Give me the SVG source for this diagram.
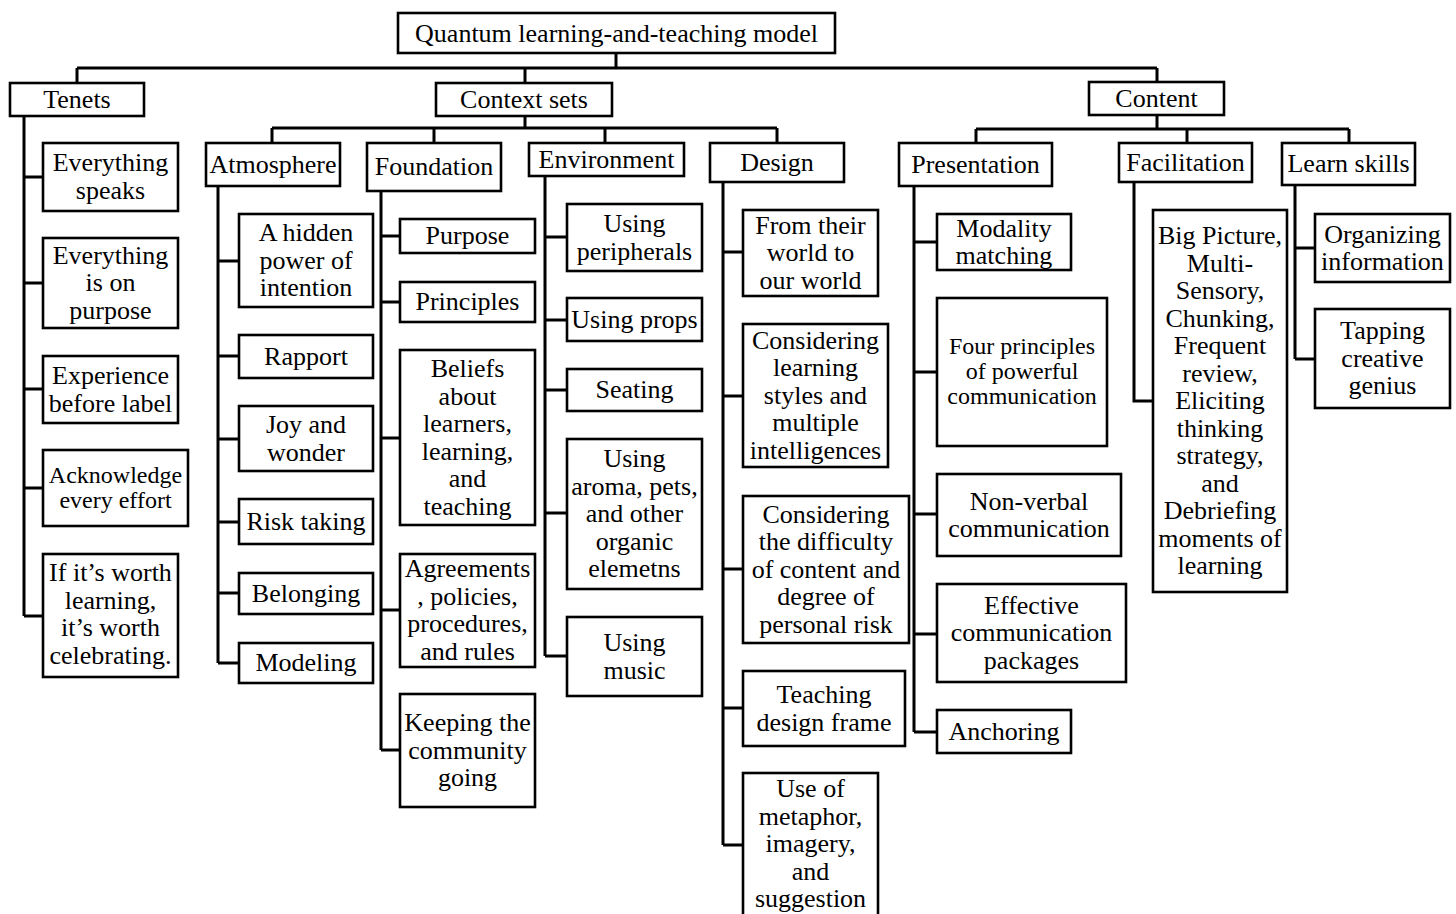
<svg xmlns="http://www.w3.org/2000/svg" width="1456" height="914" viewBox="0 0 1456 914">
<style>
rect{fill:#fff;stroke:#000;stroke-width:2.6}
text{font-family:"Liberation Serif","Times New Roman",serif;font-size:26px;fill:#000;text-anchor:middle}
text.s{font-size:24px}
#connectors path{fill:none;stroke:#000;stroke-width:3}
</style>
<rect x="0" y="0" width="1456" height="914" style="stroke:none"/>
<g id="connectors">
<path d="M616,53V68M77,68H1157M77,68V83M525,68V83M1157,68V82"/>
<path d="M525,116V128M272,128H777M272,128V143M434,128V143M605,128V143M777,128V143"/>
<path d="M1157,115V129M976,129H1349M976,129V143M1187,129V143M1349,129V143"/>
<path d="M24,116V616M24,177H43M24,283H43M24,389H43M24,488H43M24,616H43"/>
<path d="M218,186V663M218,261H239M218,356H239M218,439H239M218,522H239M218,593H239M218,663H239"/>
<path d="M381,191V750M381,236H400M381,302H400M381,438H400M381,610H400M381,750H400"/>
<path d="M545,176V656M545,237H567M545,320H567M545,390H567M545,513H567M545,656H567"/>
<path d="M723,182V845M723,252H743M723,396H743M723,569H743M723,708H743M723,845H743"/>
<path d="M914,186V732M914,242H937M914,372H937M914,514H937M914,634H937M914,732H937"/>
<path d="M1134,182V401H1153"/>
<path d="M1295,185V359M1295,248H1315M1295,359H1315"/>
</g>
<g id="root"><rect x="398" y="13" width="437" height="40"/><text x="616.5" y="42">Quantum learning-and-teaching model</text></g>
<g id="tenets"><rect x="10" y="83" width="134" height="33"/><text x="77" y="108">Tenets</text></g>
<g id="context-sets"><rect x="436" y="83" width="176" height="33"/><text x="524" y="108">Context sets</text></g>
<g id="content"><rect x="1089" y="82" width="135" height="33"/><text x="1156.5" y="107">Content</text></g>
<g id="atmosphere"><rect x="206" y="143" width="134" height="43"/><text x="273" y="173">Atmosphere</text></g>
<g id="foundation"><rect x="367" y="143" width="134" height="48"/><text x="434" y="175">Foundation</text></g>
<g id="environment"><rect x="529" y="143" width="155" height="33"/><text x="606.5" y="168">Environment</text></g>
<g id="design"><rect x="710" y="143" width="134" height="39"/><text x="777" y="171">Design</text></g>
<g id="presentation"><rect x="899" y="143" width="153" height="43"/><text x="975.5" y="173">Presentation</text></g>
<g id="facilitation"><rect x="1119" y="143" width="133" height="39"/><text x="1185.5" y="171">Facilitation</text></g>
<g id="learn-skills"><rect x="1282" y="143" width="133" height="42"/><text x="1348.5" y="172">Learn skills</text></g>

<g id="t1"><rect x="43" y="143" width="135" height="68"/><text x="110.5" y="171"><tspan x="110.5">Everything</tspan><tspan x="110.5" dy="27.5">speaks</tspan></text></g>
<g id="t2"><rect x="43" y="238" width="135" height="90"/><text x="110.5" y="263.5"><tspan x="110.5">Everything</tspan><tspan x="110.5" dy="27.5">is on</tspan><tspan x="110.5" dy="27.5">purpose</tspan></text></g>
<g id="t3"><rect x="43" y="356" width="135" height="67"/><text x="110.5" y="384"><tspan x="110.5">Experience</tspan><tspan x="110.5" dy="27.5">before label</tspan></text></g>
<g id="t4"><rect x="43" y="450" width="145" height="76"/><text class="s" x="115.5" y="483"><tspan x="115.5">Acknowledge</tspan><tspan x="115.5" dy="25">every effort</tspan></text></g>
<g id="t5"><rect x="43" y="554" width="135" height="123"/><text x="110.5" y="581"><tspan x="110.5">If it’s worth</tspan><tspan x="110.5" dy="27.5">learning,</tspan><tspan x="110.5" dy="27.5">it’s worth</tspan><tspan x="110.5" dy="27.5">celebrating.</tspan></text></g>

<g id="a1"><rect x="239" y="214" width="134" height="93"/><text x="306" y="241"><tspan x="306">A hidden</tspan><tspan x="306" dy="27.5">power of</tspan><tspan x="306" dy="27.5">intention</tspan></text></g>
<g id="a2"><rect x="239" y="335" width="134" height="43"/><text x="306" y="365">Rapport</text></g>
<g id="a3"><rect x="239" y="406" width="134" height="65"/><text x="306" y="433"><tspan x="306">Joy and</tspan><tspan x="306" dy="27.5">wonder</tspan></text></g>
<g id="a4"><rect x="239" y="499" width="134" height="45"/><text x="306" y="530">Risk taking</text></g>
<g id="a5"><rect x="239" y="573" width="134" height="41"/><text x="306" y="602">Belonging</text></g>
<g id="a6"><rect x="239" y="643" width="134" height="40"/><text x="306" y="671">Modeling</text></g>

<g id="f1"><rect x="400" y="219" width="135" height="34"/><text x="467.5" y="244">Purpose</text></g>
<g id="f2"><rect x="400" y="282" width="135" height="40"/><text x="467.5" y="310">Principles</text></g>
<g id="f3"><rect x="400" y="350" width="135" height="175"/><text x="467.5" y="377"><tspan x="467.5">Beliefs</tspan><tspan x="467.5" dy="27.5">about</tspan><tspan x="467.5" dy="27.5">learners,</tspan><tspan x="467.5" dy="27.5">learning,</tspan><tspan x="467.5" dy="27.5">and</tspan><tspan x="467.5" dy="27.5">teaching</tspan></text></g>
<g id="f4"><rect x="400" y="554" width="135" height="113"/><text x="467.5" y="577"><tspan x="467.5">Agreements</tspan><tspan x="467.5" dy="27.5">, policies,</tspan><tspan x="467.5" dy="27.5">procedures,</tspan><tspan x="467.5" dy="27.5">and rules</tspan></text></g>
<g id="f5"><rect x="400" y="694" width="135" height="113"/><text x="467.5" y="731"><tspan x="467.5">Keeping the</tspan><tspan x="467.5" dy="27.5">community</tspan><tspan x="467.5" dy="27.5">going</tspan></text></g>

<g id="e1"><rect x="567" y="204" width="135" height="67"/><text x="634.5" y="232"><tspan x="634.5">Using</tspan><tspan x="634.5" dy="27.5">peripherals</tspan></text></g>
<g id="e2"><rect x="567" y="298" width="135" height="43"/><text x="634.5" y="328">Using props</text></g>
<g id="e3"><rect x="567" y="369" width="135" height="42"/><text x="634.5" y="398">Seating</text></g>
<g id="e4"><rect x="567" y="439" width="135" height="150"/><text x="634.5" y="467"><tspan x="634.5">Using</tspan><tspan x="634.5" dy="27.5">aroma, pets,</tspan><tspan x="634.5" dy="27.5">and other</tspan><tspan x="634.5" dy="27.5">organic</tspan><tspan x="634.5" dy="27.5">elemetns</tspan></text></g>
<g id="e5"><rect x="567" y="617" width="135" height="79"/><text x="634.5" y="651"><tspan x="634.5">Using</tspan><tspan x="634.5" dy="27.5">music</tspan></text></g>

<g id="d1"><rect x="743" y="210" width="135" height="86"/><text x="810.5" y="233.5"><tspan x="810.5">From their</tspan><tspan x="810.5" dy="27.5">world to</tspan><tspan x="810.5" dy="27.5">our world</tspan></text></g>
<g id="d2"><rect x="743" y="324" width="145" height="143"/><text x="815.5" y="348.5"><tspan x="815.5">Considering</tspan><tspan x="815.5" dy="27.5">learning</tspan><tspan x="815.5" dy="27.5">styles and</tspan><tspan x="815.5" dy="27.5">multiple</tspan><tspan x="815.5" dy="27.5">intelligences</tspan></text></g>
<g id="d3"><rect x="743" y="496" width="166" height="147"/><text x="826" y="522.5"><tspan x="826">Considering</tspan><tspan x="826" dy="27.5">the difficulty</tspan><tspan x="826" dy="27.5">of content and</tspan><tspan x="826" dy="27.5">degree of</tspan><tspan x="826" dy="27.5">personal risk</tspan></text></g>
<g id="d4"><rect x="743" y="671" width="162" height="75"/><text x="824" y="703"><tspan x="824">Teaching</tspan><tspan x="824" dy="27.5">design frame</tspan></text></g>
<g id="d5"><rect x="743" y="773" width="135" height="150"/><text x="810.5" y="797"><tspan x="810.5">Use of</tspan><tspan x="810.5" dy="27.5">metaphor,</tspan><tspan x="810.5" dy="27.5">imagery,</tspan><tspan x="810.5" dy="27.5">and</tspan><tspan x="810.5" dy="27.5">suggestion</tspan></text></g>

<g id="p1"><rect x="937" y="214" width="134" height="56"/><text x="1004" y="236.5"><tspan x="1004">Modality</tspan><tspan x="1004" dy="27.5">matching</tspan></text></g>
<g id="p2"><rect x="937" y="298" width="170" height="148"/><text class="s" x="1022" y="354"><tspan x="1022">Four principles</tspan><tspan x="1022" dy="25">of powerful</tspan><tspan x="1022" dy="25">communication</tspan></text></g>
<g id="p3"><rect x="937" y="474" width="184" height="82"/><text x="1029" y="509.5"><tspan x="1029">Non-verbal</tspan><tspan x="1029" dy="27.5">communication</tspan></text></g>
<g id="p4"><rect x="937" y="584" width="189" height="98"/><text x="1031.5" y="613.5"><tspan x="1031.5">Effective</tspan><tspan x="1031.5" dy="27.5">communication</tspan><tspan x="1031.5" dy="27.5">packages</tspan></text></g>
<g id="p5"><rect x="937" y="710" width="134" height="43"/><text x="1004" y="740">Anchoring</text></g>

<g id="fa1"><rect x="1153" y="210" width="134" height="382"/><text x="1220" y="244"><tspan x="1220">Big Picture,</tspan><tspan x="1220" dy="27.5">Multi-</tspan><tspan x="1220" dy="27.5">Sensory,</tspan><tspan x="1220" dy="27.5">Chunking,</tspan><tspan x="1220" dy="27.5">Frequent</tspan><tspan x="1220" dy="27.5">review,</tspan><tspan x="1220" dy="27.5">Eliciting</tspan><tspan x="1220" dy="27.5">thinking</tspan><tspan x="1220" dy="27.5">strategy,</tspan><tspan x="1220" dy="27.5">and</tspan><tspan x="1220" dy="27.5">Debriefing</tspan><tspan x="1220" dy="27.5">moments of</tspan><tspan x="1220" dy="27.5">learning</tspan></text></g>

<g id="l1"><rect x="1315" y="214" width="135" height="68"/><text x="1382.5" y="242.5"><tspan x="1382.5">Organizing</tspan><tspan x="1382.5" dy="27.5">information</tspan></text></g>
<g id="l2"><rect x="1315" y="309" width="135" height="99"/><text x="1382.5" y="339"><tspan x="1382.5">Tapping</tspan><tspan x="1382.5" dy="27.5">creative</tspan><tspan x="1382.5" dy="27.5">genius</tspan></text></g>
</svg>
